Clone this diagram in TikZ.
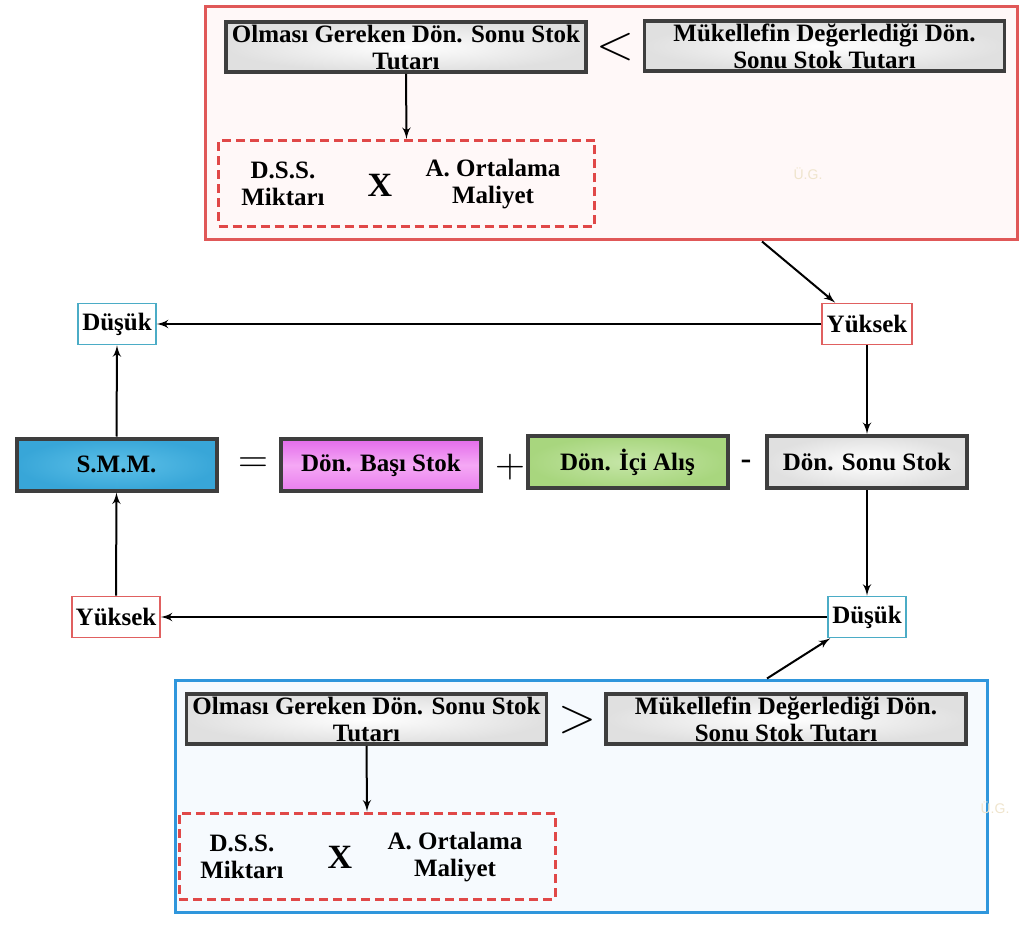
\documentclass[tikz,border=0pt]{standalone}
\usepackage{fontspec}
\setmainfont{Liberation Serif}
\setsansfont{Liberation Sans}
\usetikzlibrary{positioning, arrows}
\definecolor{framered}{HTML}{E05858}
\definecolor{frameblue}{HTML}{2F96DC}
\definecolor{pinkbg}{HTML}{FFF8F8}
\definecolor{bluebg}{HTML}{F6FAFE}
\definecolor{dashred}{HTML}{E04848}
\definecolor{boxedge}{HTML}{3E3E3E}
\definecolor{grayin}{HTML}{FFFFFF}
\definecolor{grayout}{HTML}{E0E0E0}
\definecolor{smmin}{HTML}{5CC0E8}
\definecolor{smmout}{HTML}{38A6D8}
\definecolor{basitop}{HTML}{E36BEB}
\definecolor{basimid}{HTML}{F5A8F5}
\definecolor{alisin}{HTML}{C6E6A8}
\definecolor{alisout}{HTML}{A8D67E}
\definecolor{tagred}{HTML}{E06060}
\definecolor{tagblue}{HTML}{4BACC6}
\definecolor{faint}{HTML}{EFE4CC}
\newcommand{\boxfont}{\bfseries\fontsize{12.5}{13.5}\selectfont}
\tikzset{
graybox/.style={
  draw=boxedge,
  line width=1.8pt,
  inner color=grayin, outer color=grayout,
  minimum width=180pt, minimum height=25pt,
  inner sep=0pt, align=center, font=\boxfont
  },
eqbox/.style={
  draw=boxedge,
  line width=2pt,
  minimum width=100pt, minimum height=26pt,
  inner sep=0pt, font=\boxfont
  },
tag/.style={draw, line width=0.8pt, fill=white, minimum height=20.5pt, inner sep=0pt, font=\boxfont},
outerbox/.style={line width=1.5pt, minimum width=406pt, inner sep=0pt},
dashbox/.style={draw=dashred, line width=1.5pt, dash pattern=on 4.5pt off 2.5pt, minimum width=188pt, minimum height=43pt, inner sep=0pt},
sym/.style={inner sep=0pt},
line/.style={-latex', line width=1pt}
}

\begin{document}
\begin{tikzpicture}[x=0.5pt, y=-0.5pt]
\useasboundingbox (0,0) rectangle (1021,930);

% upper case: smaller than valued stock
\node[outerbox, draw=framered, fill=pinkbg, minimum height=116.5pt]	(topframe)	at (611,123.5)	{};
\node[graybox]	(olmasitop)	at (406,47)						{Olması Gereken Dön. Sonu Stok \\ Tutarı};
\node[graybox]	(mukelleftop)	at (824.5,46)					{Mükellefin Değerlediği Dön. \\ Sonu Stok Tutarı};
\node[sym, font=\fontsize{28}{28}\selectfont]	(lesser)	at (615,47)	{$<$};
\node[dashbox]	(carpimtop)	at (406.5,183.5)					{};
\node[align=center, font=\boxfont]	(dsstop)	at (283,184)		{D.S.S. \\ Miktarı};
\node[font=\bfseries\fontsize{17}{17}\selectfont]	(xtop)	at (380,185)	{X};
\node[align=center, font=\boxfont]	(ortalamatop)	at (493,184)	{A. Ortalama \\ Maliyet};
\node[font=\sffamily\fontsize{7}{7}\selectfont, text=faint]	(ugtop)	at (808,174)	{Ü.G.};

% lower case: greater than valued stock
\node[outerbox, draw=frameblue, fill=bluebg, minimum height=116pt]	(botframe)	at (581,796)	{};
\node[graybox]	(olmasibot)	at (366.5,719)						{Olması Gereken Dön. Sonu Stok \\ Tutarı};
\node[graybox]	(mukellefbot)	at (786,719)						{Mükellefin Değerlediği Dön. \\ Sonu Stok Tutarı};
\node[sym, font=\fontsize{28}{28}\selectfont]	(greater)	at (577,720)	{$>$};
\node[dashbox]	(carpimbot)	at (367,856)						{};
\node[align=center, font=\boxfont]	(dssbot)	at (242,857)		{D.S.S. \\ Miktarı};
\node[font=\bfseries\fontsize{17}{17}\selectfont]	(xbot)	at (340,857)	{X};
\node[align=center, font=\boxfont]	(ortalamabot)	at (455,857)	{A. Ortalama \\ Maliyet};
\node[font=\sffamily\fontsize{7}{7}\selectfont, text=faint]	(ugbot)	at (995,808)	{Ü.G.};

% equation row
\node[eqbox, inner color=smmin, outer color=smmout]	(smm)	at (116.5,464.5)	{S.M.M.};
\node[eqbox, top color=basitop, bottom color=basitop!70!basimid, middle color=basimid]	(basi)	at (381,465)	{Dön. Başı Stok};
\node[eqbox, inner color=alisin, outer color=alisout]	(alis)	at (627.5,462)	{Dön. İçi Alış};
\node[eqbox, inner color=grayin, outer color=grayout]	(sonu)	at (867,462)	{Dön. Sonu Stok};
\node[sym, font=\fontsize{20}{20}\selectfont]	(esit)	at (253,465)	{$=$};
\node[sym, font=\fontsize{20}{20}\selectfont]	(arti)	at (510,467)	{$+$};
\node[sym, font=\sffamily\fontsize{17}{17}\selectfont]	(eksi)	at (746,465)	{-};

% result tags
\node[tag, draw=tagred, minimum width=45pt]	(yuksektop)	at (867,324)	{Yüksek};
\node[tag, draw=tagblue, minimum width=39pt]	(dusuktop)	at (117,324)	{Düşük};
\node[tag, draw=tagblue, minimum width=39pt]	(dusukbot)	at (867,617)	{Düşük};
\node[tag, draw=tagred, minimum width=44pt]	(yuksekbot)	at (116,617)	{Yüksek};

\draw[line]	(olmasitop.south)	--	(carpimtop.north);
\draw[line]	(olmasibot.south)	--	(carpimbot.north);
\draw[line]	([xshift=75.5pt]topframe.south)	--	([xshift=7pt]yuksektop.north west);
\draw[line]	(yuksektop.west)	--	(dusuktop.east);
\draw[line]	(smm.north)	--	(dusuktop.south);
\draw[line]	(yuksektop.south)	--	(sonu.north);
\draw[line]	(sonu.south)	--	(dusukbot.north);
\draw[line]	(dusukbot.west)	--	(yuksekbot.east);
\draw[line]	(yuksekbot.north)	--	(smm.south);
\draw[line]	([xshift=93pt]botframe.north)	--	([xshift=1.5pt]dusukbot.south west);
\end{tikzpicture}
\end{document}
